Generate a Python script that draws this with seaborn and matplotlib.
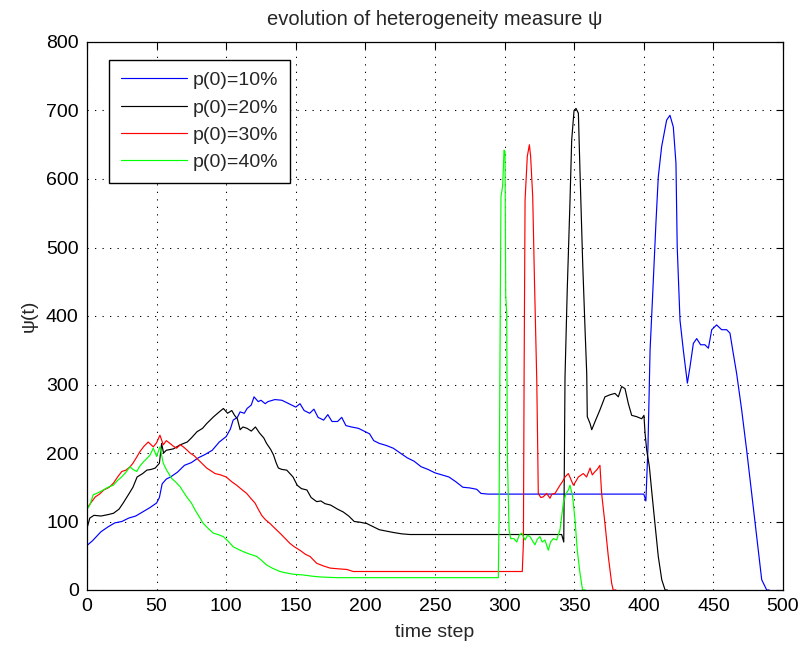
import matplotlib
matplotlib.use("Agg")
import matplotlib.pyplot as plt
import seaborn as sns
import pandas as pd

# ---- data ----
labels = ["p(0)=10%", "p(0)=20%", "p(0)=30%", "p(0)=40%"]
colors = ["#0000ff", "#000000", "#ff0000", "#00ff00"]

x_blue = [0, 4, 10, 15, 20, 25, 30, 35, 40, 45, 50, 52, 54, 57, 60, 65, 70, 75, 80, 85, 90, 95, 100, 103, 105,
          108, 110, 113, 115, 118, 120, 123, 125, 128, 130, 135, 140, 145, 150, 153, 156, 160, 163, 166, 170,
          173, 176, 180, 183, 186, 190, 195, 200, 203, 206, 210, 215, 220, 225, 230, 235, 240, 245, 250, 255,
          260, 265, 270, 275, 280, 283, 288, 400, 401.5, 403, 404.5, 406.3, 408.7, 410.4, 412.8, 416.4, 418.8,
          421.2, 423.1, 424, 426, 428.4, 431.3, 433.2, 435.6, 438, 440.8, 443.9, 446.4, 448.8, 452.3, 455.9,
          459.5, 461.9, 464.3, 466.7, 470.3, 473.9, 477.5, 481.1, 484.7, 488.3, 490]
y_blue = [65, 72, 85, 92, 98, 100, 105, 108, 114, 120, 127, 135, 155, 162, 165, 172, 182, 186, 193, 198, 204, 216,
          224, 235, 248, 252, 260, 258, 265, 270, 282, 275, 277, 272, 275, 278, 277, 272, 267, 272, 262, 258,
          264, 252, 248, 256, 246, 246, 252, 240, 238, 236, 231, 228, 218, 214, 211, 207, 200, 193, 188, 180,
          176, 171, 168, 165, 158, 150, 149, 147, 141, 140, 140, 130, 209, 350, 428, 535, 603, 647, 686, 693,
          676, 623, 501, 394, 350, 302, 326, 360, 367, 358, 358, 353, 380, 387, 380, 380, 375, 345, 316, 263,
          204, 141, 78, 15, 0, 0]

x_black = [0, 2, 5, 10, 15, 19, 23, 26, 30, 33, 36, 40, 43, 46, 49, 52, 53.6, 55, 57, 62, 67, 72, 75, 79, 83, 86,
           91, 95, 98, 101, 104, 106, 108, 110, 112, 115, 118, 121, 124, 127, 129, 132, 134, 136, 137.5, 140,
           143.5, 148, 151, 154, 158, 161, 165, 168, 171, 175, 180, 184, 188, 192, 196, 201, 205, 210, 215, 220,
           226, 232, 341, 342.5, 343.4, 345, 347, 348.2, 349.9, 351.3, 353, 354.2, 356.1, 357.8, 359, 359.4,
           361.4, 362.6, 365, 368.5, 372.1, 375.7, 379.3, 381.7, 384.1, 386.5, 388.9, 391.3, 394.9, 398.5,
           400.1, 400.9, 402.1, 404, 405.6, 408, 410.4, 412.9, 415.3, 417]
y_black = [90, 105, 109, 108, 110, 112, 118, 127, 140, 150, 165, 170, 175, 176, 178, 185, 214, 200, 204, 206, 212,
           216, 222, 231, 236, 243, 253, 260, 265, 258, 262, 255, 250, 234, 238, 236, 232, 238, 229, 222, 214,
           205, 197, 185, 178, 176, 175, 165, 153, 148, 146, 135, 129, 130, 126, 124, 118, 114, 108, 100, 99,
           97, 93, 88, 86, 84, 82, 81, 81, 70, 311, 438, 569, 657, 700, 703, 696, 608, 477, 380, 316, 253, 243,
           234, 246, 263, 282, 285, 287, 282, 297, 294, 272, 255, 253, 250, 255, 229, 204, 180, 146, 97, 49,
           15, 0, 0]

x_red = [0, 3, 6, 9, 12, 16, 19, 22, 25, 28, 31, 33, 36, 38, 41, 44, 47.6, 50, 52.4, 54.8, 57, 59.6, 62, 64.4,
         67, 69.2, 72, 74, 77, 80, 83, 86, 89, 92, 96, 100, 104, 107.5, 111, 114.7, 118, 120.7, 123, 125.5, 128,
         131.5, 135, 138.6, 142, 145.8, 149, 153, 157, 160.2, 165, 170, 174.6, 180, 186.6, 191.3, 312.7, 313.5,
         314, 314.7, 316.3, 317.8, 318.7, 320.2, 321.4, 323.1, 323.8, 324.2, 326, 327.8, 330.2, 332.6, 334,
         336.2, 338, 339.8, 341.5, 343.4, 345.8, 347.5, 349.4, 351, 353, 356.5, 358.9, 361.4, 363, 365, 366.5,
         368.5, 369.7, 372.1, 374.5, 376.9, 378, 380]
y_red = [119, 128, 136, 140, 146, 150, 156, 165, 173, 175, 180, 185, 195, 202, 210, 216, 209, 215, 226, 212, 218,
         214, 210, 207, 212, 209, 204, 200, 196, 190, 184, 178, 174, 170, 168, 165, 158, 153, 147, 141, 133, 127,
         118, 109, 103, 97, 90, 83, 76, 68, 63, 58, 52, 49, 39, 35, 32, 31, 30, 27, 27, 68, 307, 569, 633, 650,
         633, 574, 457, 307, 204, 141, 135, 136, 141, 134, 140, 141, 147, 153, 158, 165, 170, 162, 153, 158,
         165, 170, 165, 178, 168, 173, 176, 182, 141, 97, 49, 10, 0, 0]

x_green = [0, 2, 4.5, 8, 11.7, 15, 18.9, 22, 24.9, 28, 30.9, 33, 35.7, 38, 40.5, 43, 45.3, 47.6, 50, 52.4, 54.8,
           57.2, 60.8, 64, 66.8, 69, 71.6, 75, 77.6, 80, 83.6, 87, 90.7, 94, 97.9, 101, 105.1, 108, 112.3, 116,
           121.9, 125, 129, 133, 138.6, 143, 148.2, 155, 162.6, 168, 173.4, 180, 295.5, 296, 296.7, 297.4, 298.6,
           299.6, 300.3, 300.8, 301.5, 302, 303.2, 304.4, 306.7, 308.7, 310.5, 312.3, 313.5, 314.7, 316.5, 318.2,
           320, 321.8, 323.5, 325.4, 327, 329, 331.4, 333, 335, 337.4, 339.8, 342.2, 344, 345.8, 347, 348.9,
           350.6, 352.2, 354.2, 356, 358]
y_green = [118, 124, 139, 142, 146, 150, 153, 160, 165, 172, 180, 176, 173, 181, 187, 192, 197, 207, 195, 209, 185,
           175, 163, 157, 151, 144, 136, 127, 117, 109, 97, 90, 83, 81, 78, 72, 63, 60, 56, 53, 49, 44, 36.5, 32,
           27, 25, 23, 22, 20, 19, 18.5, 18, 18, 102, 348, 574, 590, 642, 640, 431, 404, 195, 88, 75, 75, 70, 80,
           83, 78, 73, 80, 78, 72, 66, 74, 78, 70, 73, 58, 70, 75, 73, 88, 127, 140, 146, 153, 136, 102, 58, 24,
           0, 0]

xs = [x_blue, x_black, x_red, x_green]
ys = [y_blue, y_black, y_red, y_green]

x_ticks = [0, 50, 100, 150, 200, 250, 300, 350, 400, 450, 500]
y_ticks = [0, 100, 200, 300, 400, 500, 600, 700, 800]

# ---- plotting ----
sns.set_style("white")
plt.rcParams["font.family"] = ["Liberation Sans", "DejaVu Sans"]

fig = plt.figure(figsize=(8.02, 6.48), dpi=100)
ax = fig.add_axes([87 / 802, 58 / 648, 696 / 802, 548 / 648])

for x, y, c, lab in zip(xs, ys, colors, labels):
    df = pd.DataFrame({"t": x, "psi": y})
    sns.lineplot(data=df, x="t", y="psi", color=c, label=lab, ax=ax,
                 estimator=None, sort=False, linewidth=0.85)

ax.set_xlim(0, 500)
ax.set_ylim(0, 800)
ax.set_xticks(x_ticks)
ax.set_yticks(y_ticks)
ax.tick_params(direction="in", length=5, width=0.8, top=True, right=True,
               labelsize=14, colors="black", pad=6)
for s in ax.spines.values():
    s.set_visible(True)
    s.set_color("black")
    s.set_linewidth(0.9)

ax.grid(True, color="black", linestyle=(0, (1.2, 6.0)), linewidth=0.75)

ax.set_title("evolution of heterogeneity measure \u03c8", fontsize=14.5, pad=12)
ax.set_xlabel("time step", fontsize=14, labelpad=6)
ax.set_ylabel("\u03c8(t)", fontsize=14, labelpad=6)

leg = ax.legend(loc="upper left", bbox_to_anchor=(22 / 696, 530 / 548), borderaxespad=0,
                fontsize=14, frameon=True, fancybox=False, edgecolor="black",
                handlelength=3.4, handletextpad=0.3, labelspacing=0.5, borderpad=0.6)
leg.get_frame().set_linewidth(1.0)
leg.get_frame().set_alpha(1)

fig.savefig("out.png", dpi=100, facecolor="white")
